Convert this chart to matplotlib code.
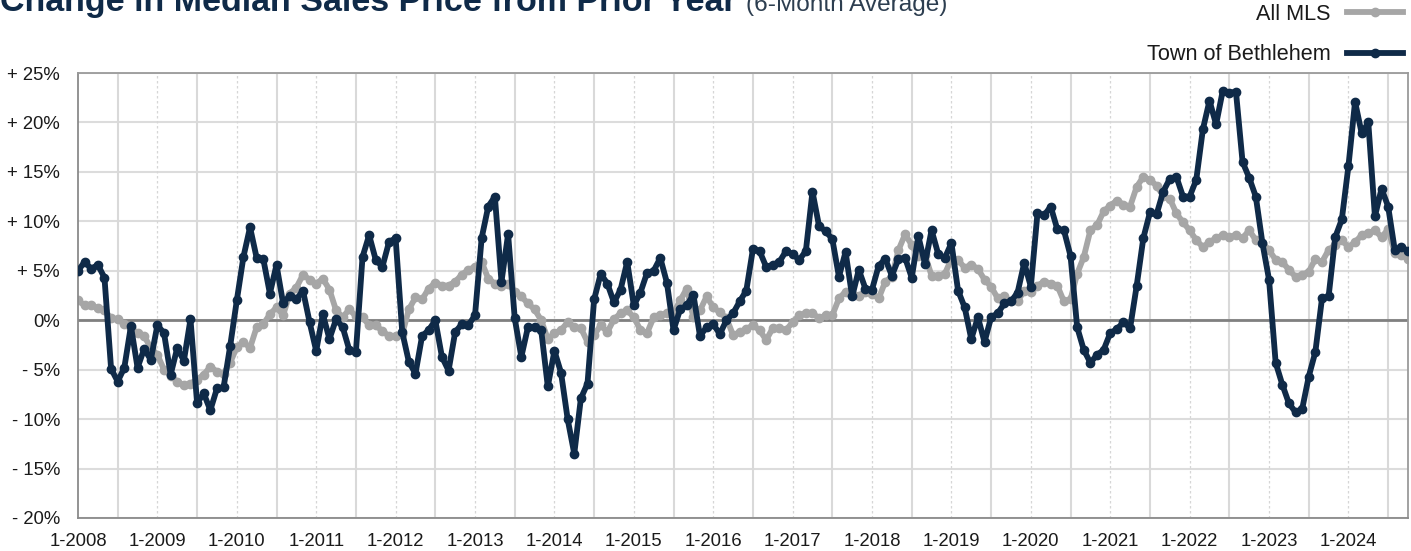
import matplotlib
matplotlib.use("Agg")
import matplotlib.pyplot as plt
import numpy as np

plt.rcParams['font.family'] = ['Liberation Sans', 'DejaVu Sans']

# Monthly data, Jan 2008 .. Oct 2024 (percent change, 6-month average)
bethlehem = [
    5.0, 5.9, 5.2, 5.6, 4.3, -4.9, -6.2, -4.8, -0.6, -4.8, -2.9, -4.0,
    -0.5, -1.3, -5.5, -2.8, -4.1, 0.1, -8.4, -7.4, -9.1, -6.9, -6.8, -2.6,
    2.0, 6.4, 9.4, 6.3, 6.2, 2.7, 5.6, 1.7, 2.5, 2.1, 3.0, -0.2,
    -3.1, 0.6, -1.9, 0.1, -0.7, -3.0, -3.2, 6.4, 8.6, 6.1, 5.4, 7.9,
    8.3, -1.2, -4.2, -5.4, -1.6, -1.0, 0.0, -3.7, -5.1, -1.2, -0.4, -0.5,
    0.5, 8.3, 11.5, 12.5, 3.9, 8.7, 0.2, -3.7, -0.7, -0.7, -1.0, -6.7,
    -3.1, -5.3, -10.0, -13.5, -7.9, -6.4, 2.1, 4.7, 3.7, 1.8, 3.1, 5.9,
    1.5, 2.8, 4.8, 5.0, 6.3, 3.8, -1.0, 1.1, 1.5, 2.6, -1.6, -0.7,
    -0.4, -1.4, 0.0, 0.7, 1.9, 3.0, 7.2, 7.0, 5.4, 5.6, 5.9, 7.0,
    6.7, 6.1, 7.0, 13.0, 9.5, 9.0, 8.2, 4.4, 6.9, 2.4, 5.1, 3.2,
    3.1, 5.5, 6.2, 4.5, 6.2, 6.3, 4.3, 8.5, 5.7, 9.1, 6.7, 6.3,
    7.8, 3.0, 1.3, -1.9, 0.3, -2.2, 0.3, 0.7, 1.7, 1.9, 2.8, 5.8,
    3.4, 10.8, 10.6, 11.5, 9.2, 9.1, 6.5, -0.7, -3.0, -4.3, -3.5, -3.0,
    -1.3, -0.9, -0.2, -0.8, 3.5, 8.3, 10.9, 10.7, 13.0, 14.3, 14.5, 12.5,
    12.5, 14.2, 19.3, 22.2, 19.8, 23.2, 23.0, 23.1, 16.0, 14.4, 12.5, 7.8,
    4.1, -4.3, -6.5, -8.4, -9.3, -9.0, -5.7, -3.2, 2.2, 2.4, 8.4, 10.2,
    15.6, 22.1, 18.9, 20.0, 10.5, 13.3, 11.5, 7.1, 7.4, 7.0,
]

all_mls = [
    2.0, 1.5, 1.5, 1.2, 1.0, 0.2, 0.1, -0.4, -0.8, -1.3, -1.6, -2.8,
    -3.5, -5.0, -5.6, -6.2, -6.6, -6.4, -6.0, -5.5, -4.7, -5.2, -5.4, -4.3,
    -2.7, -2.2, -2.8, -0.7, -0.4, 0.6, 1.3, 0.5, 2.7, 3.3, 4.6, 4.1,
    3.7, 4.2, 3.1, 1.0, 0.3, 1.1, 0.4, 0.3, -0.5, -0.5, -1.1, -1.6,
    -1.6, -1.4, 1.1, 2.3, 2.1, 3.2, 3.8, 3.5, 3.5, 3.9, 4.6, 5.1,
    5.4, 5.9, 4.2, 3.7, 3.5, 3.7, 2.9, 2.4, 1.7, 1.1, 0.0, -1.9,
    -1.3, -1.0, -0.2, -0.7, -0.8, -2.2, -1.5, -0.5, -1.2, 0.1, 0.7, 1.0,
    0.3, -1.0, -1.3, 0.3, 0.5, 0.7, 0.7, 2.0, 3.2, 0.3, 1.0, 2.4,
    1.3, 0.8, 0.2, -1.5, -1.2, -0.9, -0.5, -1.0, -2.0, -0.8, -0.8, -1.0,
    -0.2, 0.5, 0.7, 0.7, 0.2, 0.5, 0.5, 2.2, 2.9, 2.7, 2.5, 2.9,
    2.7, 2.2, 3.9, 4.4, 7.1, 8.7, 7.6, 6.5, 6.6, 4.5, 4.5, 4.7,
    6.2, 6.1, 5.3, 5.6, 5.2, 4.1, 3.4, 2.2, 2.4, 1.9, 1.9, 3.0,
    2.9, 3.5, 3.9, 3.7, 3.5, 1.9, 2.1, 4.7, 6.4, 9.1, 9.6, 11.0,
    11.6, 12.1, 11.7, 11.5, 13.5, 14.5, 14.2, 13.6, 12.6, 12.3, 10.8, 9.9,
    9.1, 8.1, 7.4, 7.9, 8.3, 8.6, 8.4, 8.6, 8.3, 9.1, 8.1, 7.8,
    7.1, 6.1, 5.9, 5.1, 4.4, 4.6, 4.9, 6.2, 5.9, 7.1, 7.6, 8.1,
    7.4, 7.9, 8.6, 8.8, 9.1, 8.4, 9.2, 6.8, 6.6, 6.2,
]

year_labels = [f"1-{y}" for y in range(2008, 2025)]
y_ticks = [-20, -15, -10, -5, 0, 5, 10, 15, 20, 25]
y_labels = ["- 20%", "- 15%", "- 10%", "- 5%", "0%", "+ 5%", "+ 10%", "+ 15%", "+ 20%", "+ 25%"]

NAVY = "#0f2a48"
GRAY = "#a6a6a6"

W, H = 1411, 551
fig = plt.figure(figsize=(W / 100, H / 100), dpi=100)
ax = fig.add_axes([78 / W, 1 - 518 / H, (1408 - 78) / W, (518 - 73) / H])

months = np.arange(len(bethlehem))

# grid
for v in y_ticks:
    ax.axhline(v, color="#dcdcdc", lw=1.5, zorder=0)
for k in range(len(year_labels)):
    xm = 12 * k + 6
    if xm < len(months):
        ax.axvline(xm, color="#d9d9d9", lw=1.5, zorder=0)
    xj = 12 * k
    if xj > 0:
        ax.axvline(xj, color="#d6d6d6", lw=0.9, ls=(0, (2, 2)), zorder=0)
ax.axhline(0, color="#808080", lw=2.0, zorder=1)

l1, = ax.plot(months, all_mls, color=GRAY, lw=4.2, marker="o", ms=6,
              solid_joinstyle="round", zorder=2, label="All MLS")
l2, = ax.plot(months, bethlehem, color=NAVY, lw=4.2, marker="o", ms=6,
              solid_joinstyle="round", zorder=3, label="Town of Bethlehem")

ax.set_xlim(0, len(months) - 1)
ax.set_ylim(-20, 25)
ax.set_yticks(y_ticks)
ax.set_yticklabels(y_labels)
ax.set_xticks(np.arange(0, 12 * len(year_labels), 12))
ax.set_xticklabels(year_labels)
ax.tick_params(axis="both", length=0, labelsize=13.3, colors="#1a1a1a")
ax.tick_params(axis="y", pad=13)
ax.tick_params(axis="x", pad=11)
for s in ax.spines.values():
    s.set_color("#9a9a9a")
    s.set_linewidth(1.3)
ax.spines["left"].set_color("#8a8a8a")
ax.spines["bottom"].set_color("#8a8a8a")

leg = ax.legend(handles=[l1, l2], loc="upper right",
                bbox_to_anchor=(1403 / W, 1 - 4 / H), bbox_transform=fig.transFigure,
                frameon=False, markerfirst=False, fontsize=15.6,
                handlelength=2.6, handletextpad=0.75, labelspacing=0.9,
                borderpad=0, borderaxespad=0)
for t in leg.get_texts():
    t.set_color("#1a1a1a")

# title (clipped at top as in the reference)
t1 = fig.text(0.0, 1 - 11 / H, "Change in Median Sales Price from Prior Year",
              fontsize=24.5, fontweight="bold", color=NAVY, va="baseline", ha="left")
fig.canvas.draw()
bb = t1.get_window_extent()
fig.text((bb.x1 + 9) / W, 1 - 11 / H, "(6-Month Average)",
         fontsize=17.6, color="#2d3e50", va="baseline", ha="left")

fig.savefig("out.png", dpi=100)
